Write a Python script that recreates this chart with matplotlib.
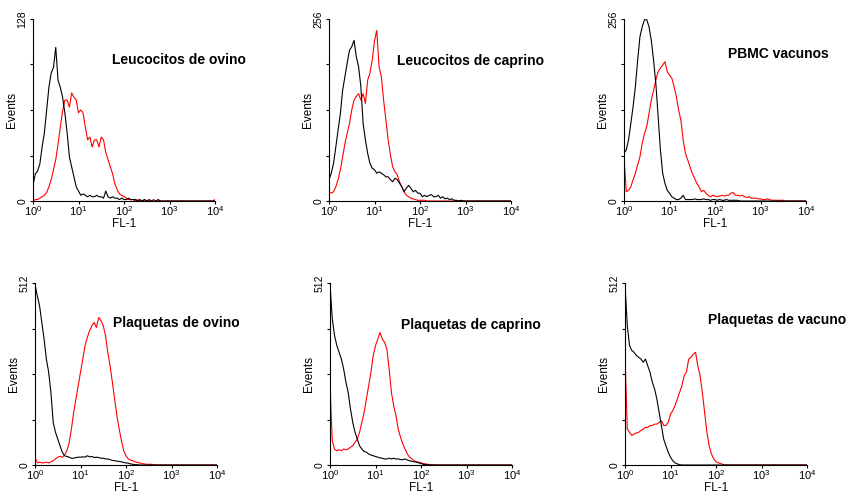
import numpy as np
import matplotlib
matplotlib.use("Agg")
import matplotlib.pyplot as plt
from matplotlib.ticker import LogFormatterMathtext, NullLocator

plt.rcParams["font.family"] = ["Liberation Sans", "DejaVu Sans"]
plt.rcParams["mathtext.default"] = "regular"

# FL-1 channels, 20 per decade from 10^0 to 10^4
CHANNEL_LOG = np.linspace(0, 4, 81)

PANEL_TITLES = [
    "Leucocitos de ovino", "Leucocitos de caprino", "PBMC vacunos",
    "Plaquetas de ovino", "Plaquetas de caprino", "Plaquetas de vacuno",
]
Y_MAX = [128, 256, 256, 512, 512, 512]

# control (black) histograms
leuco_ovino_ctrl = [
    11, 19, 21, 26, 38, 48, 64, 80, 90, 94,
    108, 85, 80, 73, 62, 48, 31, 24, 17, 10,
    7, 4, 5, 4, 3, 4, 3, 3, 4, 3,
    3, 2, 7, 3, 2, 3, 2, 2, 1, 2,
    1, 1, 2, 1, 1, 1, 0, 1, 0, 1,
    0, 1, 0, 0, 0, 1, 0, 0, 0, 0,
    0, 0, 0, 0, 0, 0, 0, 0, 0, 0,
    0, 0, 0, 0, 0, 0, 0, 0, 0, 0,
    0]
leuco_caprino_ctrl = [
    30, 39, 53, 76, 100, 123, 156, 175, 194, 212,
    217, 226, 203, 189, 161, 109, 86, 67, 53, 46,
    44, 39, 41, 39, 37, 34, 34, 30, 27, 32,
    30, 25, 20, 13, 18, 22, 18, 13, 15, 11,
    11, 6, 8, 6, 8, 9, 6, 6, 8, 4,
    6, 3, 4, 2, 3, 1, 1, 0, 1, 0,
    0, 0, 0, 0, 0, 0, 0, 0, 0, 0,
    0, 0, 0, 0, 0, 0, 0, 0, 0, 0,
    0]
pbmc_vacuno_ctrl = [
    67, 72, 86, 109, 133, 161, 198, 231, 245, 255,
    255, 245, 226, 198, 165, 119, 72, 39, 25, 15,
    11, 6, 4, 2, 2, 4, 8, 2, 2, 2,
    2, 3, 2, 2, 2, 3, 2, 2, 1, 2,
    2, 1, 2, 1, 1, 2, 1, 1, 1, 1,
    1, 0, 0, 0, 0, 0, 0, 0, 0, 0,
    0, 0, 0, 0, 0, 0, 0, 0, 0, 0,
    0, 0, 0, 0, 0, 0, 0, 0, 0, 0,
    0]
plaq_ovino_ctrl = [
    509, 476, 448, 401, 354, 298, 261, 204, 120, 92,
    73, 54, 36, 26, 24, 22, 19, 19, 21, 22,
    22, 23, 22, 26, 23, 24, 21, 22, 21, 19,
    19, 17, 17, 15, 13, 12, 11, 10, 9, 7,
    6, 5, 3, 2, 1, 1, 0, 0, 0, 0,
    0, 0, 0, 0, 0, 0, 0, 0, 0, 0,
    0, 0, 0, 0, 0, 0, 0, 0, 0, 0,
    0, 0, 0, 0, 0, 0, 0, 0, 0, 0,
    0]
plaq_caprino_ctrl = [
    509, 411, 364, 336, 317, 298, 270, 233, 204, 158,
    120, 92, 73, 54, 45, 38, 36, 31, 28, 26,
    24, 22, 20, 19, 17, 17, 19, 17, 19, 17,
    17, 15, 15, 17, 14, 12, 10, 9, 8, 6,
    4, 2, 1, 1, 0, 0, 0, 0, 0, 0,
    0, 0, 0, 0, 0, 0, 0, 0, 0, 0,
    0, 0, 0, 0, 0, 0, 0, 0, 0, 0,
    0, 0, 0, 0, 0, 0, 0, 0, 0, 0,
    0]
plaq_vacuno_ctrl = [
    509, 392, 336, 322, 317, 308, 303, 298, 289, 298,
    279, 261, 233, 214, 186, 148, 111, 73, 54, 36,
    22, 12, 6, 3, 1, 0, 0, 0, 0, 0,
    0, 0, 0, 0, 0, 0, 0, 0, 0, 0,
    0, 0, 0, 0, 0, 0, 0, 0, 0, 0,
    0, 0, 0, 0, 0, 0, 0, 0, 0, 0,
    0, 0, 0, 0, 0, 0, 0, 0, 0, 0,
    0, 0, 0, 0, 0, 0, 0, 0, 0, 0,
    0]

# stained (red) histograms
leuco_ovino_mab = [
    0, 1, 1, 2, 3, 4, 6, 10, 15, 22,
    29, 40, 52, 63, 71, 71, 66, 76, 73, 71,
    62, 64, 62, 52, 43, 45, 38, 43, 43, 38,
    45, 43, 34, 29, 24, 19, 12, 8, 5, 4,
    3, 2, 1, 1, 1, 0, 1, 0, 0, 1,
    0, 0, 0, 1, 0, 0, 0, 0, 0, 0,
    0, 0, 0, 0, 0, 0, 0, 0, 0, 0,
    0, 0, 0, 0, 0, 0, 0, 0, 0, 0,
    1]
leuco_caprino_mab = [
    13, 11, 13, 20, 30, 44, 62, 81, 95, 109,
    128, 142, 147, 151, 142, 151, 137, 170, 180, 198,
    225, 240, 189, 175, 142, 114, 86, 65, 48, 41,
    37, 27, 20, 13, 8, 6, 4, 3, 2, 1,
    1, 1, 1, 0, 0, 0, 0, 0, 0, 0,
    0, 0, 0, 0, 0, 0, 0, 0, 0, 0,
    0, 0, 0, 0, 0, 0, 0, 0, 0, 0,
    0, 0, 0, 0, 0, 0, 0, 0, 0, 0,
    0]
pbmc_vacuno_mab = [
    62, 13, 15, 20, 30, 39, 51, 62, 81, 95,
    105, 123, 142, 156, 170, 182, 187, 191, 196, 182,
    177, 173, 161, 147, 128, 114, 86, 67, 58, 48,
    39, 32, 25, 20, 13, 15, 11, 8, 6, 8,
    7, 6, 7, 8, 7, 8, 8, 11, 12, 8,
    8, 7, 8, 6, 5, 6, 4, 4, 4, 3,
    3, 2, 2, 3, 2, 1, 1, 1, 1, 1,
    1, 0, 0, 0, 0, 0, 0, 0, 0, 0,
    0]
plaq_ovino_mab = [
    22, 6, 8, 6, 6, 8, 6, 9, 12, 17,
    22, 24, 22, 28, 40, 62, 101, 148, 186, 223,
    261, 298, 336, 359, 378, 392, 401, 387, 415, 406,
    392, 364, 317, 279, 233, 186, 139, 101, 68, 40,
    26, 17, 14, 12, 9, 7, 6, 4, 3, 2,
    2, 2, 1, 0, 0, 0, 0, 0, 0, 0,
    0, 0, 0, 0, 0, 0, 0, 0, 0, 0,
    0, 0, 0, 0, 0, 0, 0, 0, 0, 0,
    0]
plaq_caprino_mab = [
    228, 68, 45, 40, 43, 40, 45, 43, 45, 50,
    54, 64, 73, 92, 120, 148, 186, 223, 261, 308,
    336, 354, 373, 354, 345, 326, 270, 204, 167, 139,
    101, 78, 59, 45, 31, 22, 17, 12, 9, 8,
    6, 4, 3, 2, 1, 1, 0, 0, 0, 0,
    0, 0, 0, 0, 0, 0, 0, 0, 0, 0,
    0, 0, 0, 0, 0, 0, 0, 0, 0, 0,
    0, 0, 0, 0, 0, 0, 0, 0, 0, 0,
    0]
plaq_vacuno_mab = [
    312, 101, 92, 83, 87, 90, 92, 97, 101, 106,
    106, 111, 111, 115, 115, 120, 125, 111, 111, 120,
    143, 153, 167, 186, 204, 223, 251, 261, 298, 303,
    312, 317, 279, 251, 204, 148, 92, 54, 31, 17,
    9, 6, 4, 2, 0, 0, 0, 0, 0, 0,
    0, 0, 0, 0, 0, 0, 0, 0, 0, 0,
    0, 0, 0, 0, 0, 0, 0, 0, 0, 0,
    0, 0, 0, 0, 0, 0, 0, 0, 0, 0,
    0]

CONTROL = [leuco_ovino_ctrl, leuco_caprino_ctrl, pbmc_vacuno_ctrl,
           plaq_ovino_ctrl, plaq_caprino_ctrl, plaq_vacuno_ctrl]
STAINED = [leuco_ovino_mab, leuco_caprino_mab, pbmc_vacuno_mab,
           plaq_ovino_mab, plaq_caprino_mab, plaq_vacuno_mab]

# axes boxes in pixels (left, top) and title anchor in axes fraction
AX_PX = [(33, 19), (329, 19), (624, 19), (35, 283), (330, 283), (625, 283)]
TITLE_POS = [(0.434, 0.753), (0.374, 0.747), (0.571, 0.786),
             (0.426, 0.758), (0.390, 0.747), (0.456, 0.775)]

W, H = 848, 498
fig = plt.figure(figsize=(W / 100, H / 100), dpi=100)

x = 10 ** CHANNEL_LOG
for i in range(6):
    left, top = AX_PX[i]
    ax = fig.add_axes([left / W, 1 - (top + 182) / H, 182 / W, 182 / H])
    ax.plot(x, STAINED[i], color="#ff0000", lw=0.8)
    ax.plot(x, CONTROL[i], color="black", lw=0.8)
    ax.set_xscale("log")
    ax.set_xlim(1, 1e4)
    ax.set_ylim(0, Y_MAX[i])
    for side in ("top", "right"):
        ax.spines[side].set_visible(False)
    for side in ("left", "bottom"):
        ax.spines[side].set_linewidth(0.8)
    ax.set_xticks([1, 10, 100, 1000, 10000])
    ax.xaxis.set_major_formatter(LogFormatterMathtext())
    ax.xaxis.set_minor_locator(NullLocator())
    ymax = Y_MAX[i]
    ax.set_yticks([0, ymax / 4, ymax / 2, 3 * ymax / 4, ymax])
    ax.set_yticklabels(["0", "", "", "", str(ymax)])
    plt.setp(ax.get_yticklabels(), rotation=90, va="center")
    ax.tick_params(axis="x", length=2, width=0.8, labelsize=8, pad=0.5)
    ax.tick_params(axis="y", length=2.5, width=0.8, labelsize=7.5, pad=1.5)
    ax.set_xlabel("FL-1", fontsize=8.5)
    ax.set_ylabel("Events", fontsize=8.5)
    ax.xaxis.set_label_coords(0.5, -0.094)
    ax.yaxis.set_label_coords(-0.082, 0.5)
    tx, ty = TITLE_POS[i]
    ax.text(tx, ty, PANEL_TITLES[i], transform=ax.transAxes,
            fontsize=10, fontweight="bold", ha="left", va="baseline",
            clip_on=False)

fig.savefig("out.png", dpi=100)
